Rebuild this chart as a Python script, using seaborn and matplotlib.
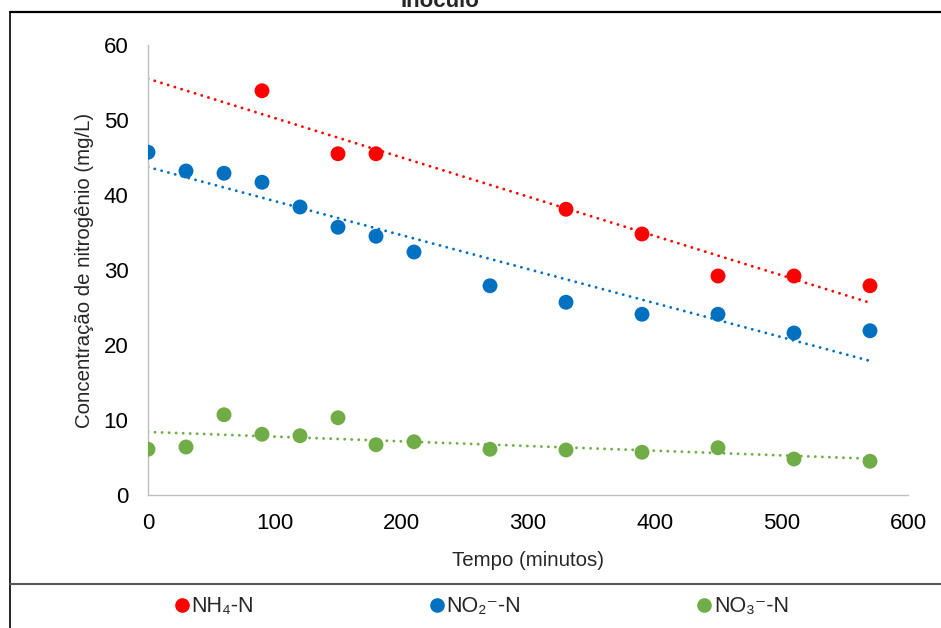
import matplotlib
matplotlib.use("Agg")
import matplotlib.pyplot as plt
from matplotlib.lines import Line2D
import seaborn as sns
import numpy as np
import pandas as pd

# ==========================================
# 1. DATA
# ==========================================
t_nh4 = [90, 150, 180, 330, 390, 450, 510, 570]
nh4 = [53.9, 45.5, 45.5, 38.1, 34.8, 29.2, 29.2, 27.9]

t_all = [0, 30, 60, 90, 120, 150, 180, 210, 270, 330, 390, 450, 510, 570]
no2 = [45.7, 43.2, 42.9, 41.7, 38.4, 35.7, 34.5, 32.4, 27.9, 25.7, 24.1, 24.1, 21.6, 21.9]
no3 = [6.1, 6.4, 10.7, 8.1, 7.9, 10.3, 6.7, 7.1, 6.1, 6.0, 5.7, 6.3, 4.8, 4.5]

labels = ["NH\u2084-N", "NO\u2082\u207b-N", "NO\u2083\u207b-N"]
colors = ["#FF0000", "#0070C0", "#70AD47"]

df = pd.concat([
    pd.DataFrame({"t": t_nh4, "c": nh4, "serie": labels[0]}),
    pd.DataFrame({"t": t_all, "c": no2, "serie": labels[1]}),
    pd.DataFrame({"t": t_all, "c": no3, "serie": labels[2]}),
])

# ==========================================
# 2. PLOTTING
# ==========================================
sns.set_theme(style="white")
plt.rcParams["font.family"] = ["Liberation Sans", "DejaVu Sans"]

fig = plt.figure(figsize=(9.41, 6.28), dpi=100)
ax = fig.add_axes([148 / 941, 1 - 495 / 628, 760 / 941, 450 / 628])

sns.scatterplot(data=df, x="t", y="c", hue="serie", palette=colors,
                s=115, edgecolor="none", ax=ax, legend=False, zorder=3)

# linear trendlines (Excel style), from 0 to last point
xs = np.array([0, 570])
for (tx, cy), col in zip([(t_nh4, nh4), (t_all, no2), (t_all, no3)], colors):
    k, b = np.polyfit(tx, cy, 1)
    ax.plot(xs, k * xs + b, color=col, lw=2.1, ls=(0, (0.01, 2.4)),
            dash_capstyle="round", zorder=2)

ax.set_xlim(0, 600)
ax.set_ylim(0, 60)
ax.set_xticks(range(0, 601, 100))
ax.set_yticks(range(0, 61, 10))
ax.tick_params(axis="both", labelsize=16, length=0, colors="#000000")
ax.tick_params(axis="x", pad=13)
ax.tick_params(axis="y", pad=14)
sns.despine(ax=ax)
for side in ["left", "bottom"]:
    ax.spines[side].set_color("#BFBFBF")
    ax.spines[side].set_linewidth(1.0)

ax.set_xlabel("Tempo (minutos)", fontsize=14.7, labelpad=12)
ax.set_ylabel("Concentração de nitrogênio (mg/L)", fontsize=14.7, labelpad=7)

# cut-off title at the top
fig.text(440 / 941, 1 - 7 / 628, "Inóculo", ha="center", va="baseline",
         fontsize=16, fontweight="bold")

# outer frame and separator above legend
fig.add_artist(Line2D([9.5 / 941, 1], [1 - 12 / 628] * 2, color="#000000", lw=1.6))
fig.add_artist(Line2D([9.5 / 941] * 2, [0, 1 - 12 / 628], color="#000000", lw=1.2))
fig.add_artist(Line2D([9.5 / 941, 1], [1 - 584 / 628] * 2, color="#595959", lw=1.5))

handles = [Line2D([], [], marker="o", ls="none", color=c, markersize=9.5) for c in colors]
fig.legend(handles, labels, loc="center", bbox_to_anchor=(482 / 941, 1 - 607 / 628),
           ncol=3, frameon=False, fontsize=15.5, handlelength=0.6,
           handletextpad=0.15, columnspacing=8.2)

fig.savefig("out.png", dpi=100)
